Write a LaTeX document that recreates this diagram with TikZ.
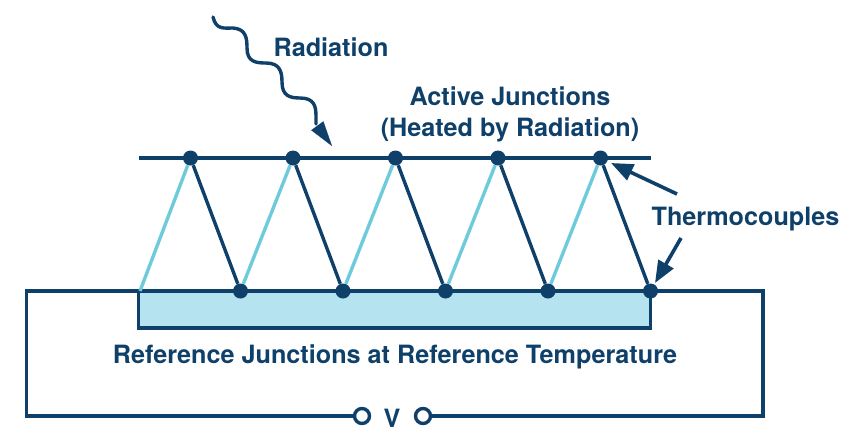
\documentclass[tikz,border=0pt]{standalone}
\usepackage{fontspec}
\setmainfont{TeX Gyre Heros}
\usetikzlibrary{arrows.meta}
\definecolor{navy}{HTML}{0F4069}
\definecolor{wirelight}{HTML}{6FCBDC}
\definecolor{coldfill}{HTML}{B5E4F0}
\tikzset{
    junction/.style={circle,fill=navy,inner sep=0pt,minimum size=15pt},
    terminal/.style={circle,draw=navy,line width=3.4pt,fill=white,inner sep=0pt,minimum size=15pt},
    label/.style={text=navy,font=\fontsize{25.2}{31}\selectfont\bfseries,inner sep=0pt},
    wire/.style={draw=navy,line width=3.4pt},
    pointer/.style={draw=navy,line width=3.6pt,-{Triangle[length=22pt,width=17pt]}}
}
\begin{document}
\begin{tikzpicture}[x=1pt,y=-1pt]
    \useasboundingbox (0,0) rectangle (857,445);

    \coordinate (ul) at (26.5,291);
    \coordinate (ur) at (763,291);
    \coordinate (ll) at (26.5,416);
    \coordinate (lr) at (763,416);
    \coordinate (s0) at (140,291);
    \coordinate (barl) at (139,158);
    \coordinate (barr) at (651,158);

    % cold block
    \filldraw[wire,fill=coldfill] (138.5,291) rectangle (650.5,328);

    \node[terminal] (vl) at (362,416) {};
    \node[terminal] (vr) at (423,416) {};
    \draw[wire,line join=miter] (vl) -- (ll) -- (ul) -- (ur) -- (lr) -- (vr);
    \draw[wire] (barl) -- (barr);

    \foreach \i/\xt/\xb in {1/190.5/240.5,2/293/343,3/395.5/445.5,4/498/548,5/600.5/650.5} {
        \node[junction] (t\i) at (\xt,158) {};
        \node[junction] (b\i) at (\xb,291) {};
    }
    \draw[wirelight,line width=3.4pt] (s0) -- (t1);
    \foreach \i/\j in {1/2,2/3,3/4,4/5} {
        \draw[wirelight,line width=3.4pt] (b\i) -- (t\j);
    }
    \foreach \j in {1,...,5} {
        \draw[wire] (t\j) -- (b\j);
    }

    \node[label] (rad) at (331,47.5) {Radiation};
    \node[label,align=center] (active) at (510,114.5) {Active Junctions\\(Heated by Radiation)};
    \node[label] (thermo) at (745.5,219.5) {Thermocouples};
    \node[label] (ref) at (395,356.5) {Reference Junctions at Reference Temperature};
    \node[label] (volt) at (392,418.5) {V};

    \coordinate (wstart) at (213,17);
    \coordinate (wtail) at (316,124);
    \coordinate (wend) at (332,146);
    \draw[navy,line width=3.4pt,line cap=round] (wstart)
        .. controls (216,30) and (224,28) .. (233,28)
        .. controls (246,29) and (247,38) .. (247,48)
        .. controls (247,62) and (256,63) .. (266,63)
        .. controls (280,63) and (282,72) .. (282,82)
        .. controls (282,96) and (290,98) .. (300,98)
        .. controls (314,98) and (316,106) .. (316,116)
        -- (wtail);
    \draw[navy,line width=0.1pt,-{Triangle[length=25pt,width=15pt]}] (wtail) -- (wend);

    \coordinate (p1) at (677,194);
    \coordinate (q1) at (611,163);
    \coordinate (p2) at (681,238);
    \coordinate (q2) at (655,283);
    \draw[pointer] (p1) -- (q1);
    \draw[pointer] (p2) -- (q2);
\end{tikzpicture}
\end{document}
